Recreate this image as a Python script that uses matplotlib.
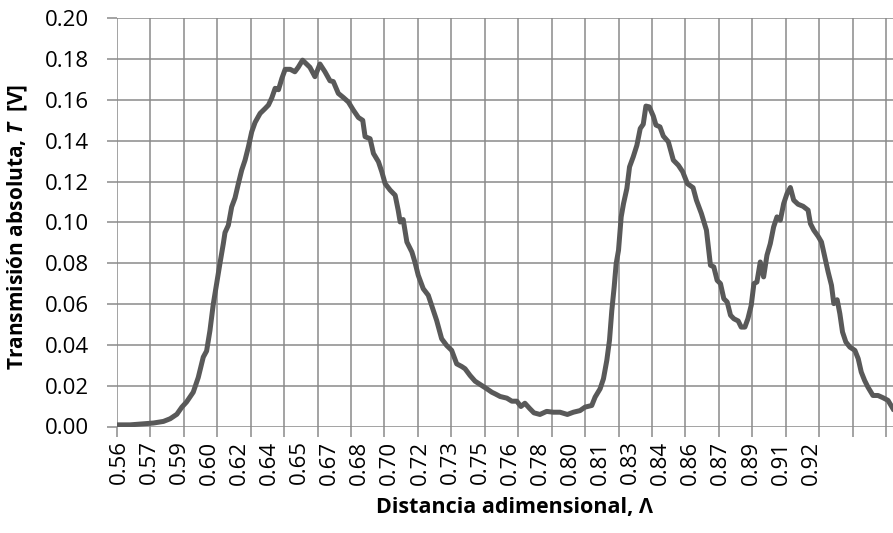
import matplotlib
matplotlib.use("Agg")
import matplotlib.pyplot as plt

# category position along the chart's x axis, and absolute transmission T [V]
cat = [0, 3.9, 7.9, 10.9, 13.9, 15.9, 17.9, 19.4, 20.8, 22.8, 24.3, 25.8, 26.8, 27.8,
       28.8, 29.8, 30.8, 31.8, 32.3, 33.3, 34.3, 35.3, 36.3, 37.3, 38.3, 39.3, 40.3,
       41.3, 42.8, 44.3, 45.3, 46.3, 47.3, 48.3, 49.3, 50.3, 51.8, 53.2, 54.2, 55.5,
       57.7, 59.2, 60.7, 62.2, 63.7, 64.7, 66.2, 67.7, 69.2, 70.7, 72.2, 73.5, 74.2,
       75.7, 76.7, 78.2, 79.2, 80.2, 81.7, 83.2, 84.1, 84.7, 85.6, 86.7, 88.2, 89.1,
       90.1, 91.6, 93.1, 94.1, 95.6, 97.1, 98.6, 100.1, 101.6, 103.1, 104.1, 105.6,
       107.1, 108.6, 110.6, 112.1, 113.1, 114.6, 116.6, 118.1, 119.6, 120.8, 122.0,
       123.5, 124.7, 126.5, 128.5, 130.5, 132.5, 134.7, 136.5, 138.5, 140.0, 142.0,
       143.0, 144.5, 145.5, 146.5, 147.3, 148.0, 148.7, 149.3, 150.0, 150.8, 151.5,
       152.5, 153.3, 154.4, 155.5, 156.5, 157.4, 158.2, 159.2, 160.4, 161.2, 162.4,
       163.4, 164.9, 166.4, 167.9, 169.2, 170.6, 172.3, 173.3, 174.8, 176.3, 177.1,
       177.5, 178.5, 179.5, 180.5, 181.5, 182.5, 183.5, 184.5, 185.8, 186.7, 187.8,
       188.7, 189.7, 190.5, 191.4, 192.4, 193.4, 194.4, 195.4, 196.4, 197.4, 198.4,
       199.4, 200.4, 201.4, 202.4, 203.7, 205.2, 206.7, 207.4, 208.4, 209.7, 210.7,
       211.7, 212.7, 213.7, 214.4, 215.4, 216.2, 217.0, 218.0, 219.2, 220.7, 221.7,
       222.6, 223.6, 224.6, 226.1, 227.6, 229.1, 230.6, 232.1]
trans = [0.0008, 0.0008, 0.0013, 0.0017, 0.0025, 0.0038, 0.006, 0.0095, 0.012, 0.0168,
         0.024, 0.034, 0.037, 0.047, 0.060, 0.070, 0.080, 0.0896, 0.095, 0.0986, 0.1076,
         0.112, 0.119, 0.1256, 0.1305, 0.137, 0.1444, 0.149, 0.1534, 0.1558, 0.1575,
         0.161, 0.1657, 0.165, 0.1705, 0.175, 0.175, 0.1738, 0.176, 0.1795,
         0.176, 0.1714, 0.1776, 0.1738, 0.1694, 0.169, 0.1632, 0.1612, 0.159, 0.155,
         0.1514, 0.150, 0.142, 0.141, 0.1338, 0.1297, 0.1248, 0.119, 0.1158, 0.1133,
         0.106, 0.1002, 0.1014, 0.0904, 0.0855, 0.0806, 0.0741, 0.0675, 0.0643, 0.0594,
         0.052, 0.043, 0.0397, 0.0373, 0.0307, 0.0294, 0.0283, 0.025, 0.0222, 0.0206,
         0.0185, 0.0168, 0.016, 0.0147, 0.0139, 0.0124, 0.0124, 0.0098, 0.0114, 0.0087,
         0.0067, 0.0059, 0.0074, 0.007, 0.007, 0.0059, 0.007, 0.0078, 0.0095, 0.0103,
         0.0144, 0.0185, 0.0234, 0.0324, 0.0422, 0.0569, 0.0683, 0.0798, 0.0863, 0.1027,
         0.1092, 0.1166, 0.1272, 0.1321, 0.1378, 0.146, 0.1481, 0.157, 0.1566, 0.1521,
         0.1477, 0.1468, 0.1423, 0.1395, 0.1305, 0.128, 0.1248, 0.119, 0.117, 0.1109,
         0.1043, 0.0962, 0.0847, 0.079, 0.0782, 0.0716, 0.07, 0.0626, 0.061, 0.0545,
         0.0528, 0.0517, 0.0487, 0.0487, 0.0528, 0.0594, 0.07, 0.0708, 0.0806, 0.0733,
         0.0839, 0.0896, 0.0978, 0.1027, 0.1011, 0.1092, 0.1141, 0.1171, 0.1109, 0.1089,
         0.1079, 0.106, 0.0994, 0.0962, 0.0932, 0.0904, 0.0831, 0.0757, 0.0692, 0.0602,
         0.0621, 0.0553, 0.0463, 0.0414, 0.0389, 0.0373, 0.0332, 0.0267, 0.0226, 0.0193,
         0.0152, 0.0152, 0.0141, 0.0128, 0.0087]

lam_labels = ["0.56", "0.57", "0.59", "0.60", "0.62", "0.64", "0.65", "0.67", "0.68",
              "0.70", "0.72", "0.73", "0.75", "0.76", "0.78", "0.80", "0.81", "0.83",
              "0.84", "0.86", "0.87", "0.89", "0.91", "0.92"]
label_every = 9   # categories between labels
tick_every = 10   # categories between tick marks / gridlines
y_ticks = [0.00, 0.02, 0.04, 0.06, 0.08, 0.10, 0.12, 0.14, 0.16, 0.18, 0.20]

plt.rcParams['font.family'] = ['Open Sans', 'DejaVu Sans']
plt.rcParams['mathtext.fontset'] = 'custom'
plt.rcParams['mathtext.it'] = 'Open Sans:italic:bold'
plt.rcParams['mathtext.rm'] = 'Open Sans:bold'

grid_c = '#8a8a8a'
fig = plt.figure(figsize=(8.93, 5.33), dpi=100)
ax = fig.add_axes([117 / 893, 106.5 / 533, 776 / 893, 408.2 / 533])

ax.plot(cat, trans, color='#595959', linewidth=3.6, solid_joinstyle='round', zorder=3)

ax.set_xlim(0, 232.1)
ax.set_ylim(0, 0.20)

# gridlines + tick marks every 10 categories, labels every 9
ax.xaxis.remove_overlapping_locs = False
ax.set_xticks([tick_every * i for i in range(24)])
ax.set_xticklabels([])
ax.set_xticks([label_every * i + 0.6 for i in range(len(lam_labels))], labels=lam_labels, minor=True)
ax.set_yticks(y_ticks, labels=[f"{v:.2f}" for v in y_ticks])

ax.tick_params(axis='x', which='major', length=7, width=1.1, color=grid_c, direction='out')
ax.tick_params(axis='x', which='minor', length=0, pad=10, labelsize=16, labelrotation=90)
ax.tick_params(axis='y', length=7, width=1.1, color=grid_c, direction='out', pad=13, labelsize=16)

ax.grid(True, which='major', color=grid_c, linewidth=1.1)
for s in ax.spines.values():
    s.set_visible(False)
ax.set_axisbelow(True)

fig.text(515 / 893, 1 - 508 / 533, "Distancia adimensional, Λ", ha='center', va='center',
         fontsize=15.5, fontweight='bold')
fig.text(18 / 893, 1 - 227 / 533, r"Transmisión absoluta, $T$  [V]", ha='center', va='center',
         rotation=90, fontsize=15, fontweight='bold')

fig.savefig("out.png", dpi=100)
